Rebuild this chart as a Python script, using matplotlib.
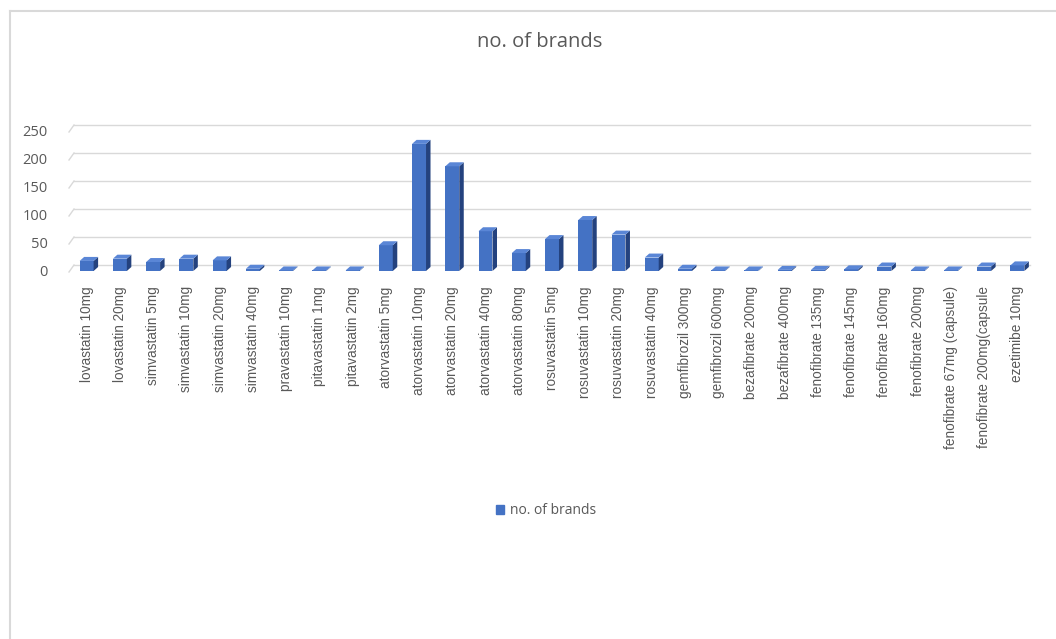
import matplotlib
matplotlib.use("Agg")
import matplotlib.pyplot as plt
from matplotlib.patches import Polygon, Rectangle
from matplotlib.lines import Line2D
import numpy as np

categories = [
    "lovastatin 10mg", "lovastatin 20mg", "simvastatin 5mg", "simvastatin 10mg",
    "simvastatin 20mg", "simvastatin 40mg", "pravastatin 10mg", "pitavastatin 1mg",
    "pitavastatin 2mg", "atorvastatin 5mg", "atorvastatin 10mg", "atorvastatin 20mg",
    "atorvastatin 40mg", "atorvastatin 80mg", "rosuvastatin 5mg", "rosuvastatin 10mg",
    "rosuvastatin 20mg", "rosuvastatin 40mg", "gemfibrozil 300mg", "gemfibrozil 600mg",
    "bezafibrate 200mg", "bezafibrate 400mg", "fenofibrate 135mg", "fenofibrate 145mg",
    "fenofibrate 160mg", "fenofibrate 200mg", "fenofibrate 67mg (capsule)",
    "fenofibrate 200mg(capsule", "ezetimibe 10mg",
]
values = [18, 22, 16, 22, 19, 4, 1, 1, 1, 46, 227, 187, 71, 32, 57, 91, 65, 24,
          4, 1, 1, 2, 2, 3, 8, 1, 1, 8, 10]
yticks = [0, 50, 100, 150, 200, 250]
series_name = "no. of brands"
title = "no. of brands"

W, H = 1056, 639
fig = plt.figure(figsize=(W / 100, H / 100), dpi=100)
fig.patch.set_facecolor("white")

n = len(categories)
left_px, right_px = 70, 1034
bot_px, top_px = 271, 131
ax = fig.add_axes([left_px / W, 1 - bot_px / H, (right_px - left_px) / W, (bot_px - top_px) / H])
ax.set_xlim(-0.5, n - 0.5)
ax.set_ylim(0, 250)
for s in ax.spines.values():
    s.set_visible(False)
ax.tick_params(length=0)
ax.set_facecolor("none")

# pixel -> data conversions
px_x = n / (right_px - left_px)
px_y = 250 / (bot_px - top_px)
back_dx, back_dy = 4 * px_x, 6 * px_y
depth_dx, depth_dy = 4.5 * px_x, 4.0 * px_y

grid_c = "#D9D9D9"
for v in yticks:
    ax.add_line(Line2D([-0.5 + back_dx, n - 0.5 - 4 * px_x], [v + back_dy, v + back_dy],
                       color=grid_c, lw=1.0, clip_on=False, zorder=1))
    ax.add_line(Line2D([-0.5 - 1 * px_x, -0.5 + back_dx], [v - 1 * px_y, v + back_dy],
                       color=grid_c, lw=1.0, clip_on=False, zorder=1))

x = np.arange(n)
bw = 0.42
front_c = "#4472C4"
side_c = "#24427E"
top_c = "#5A86D6"
bars = ax.bar(x, values, width=bw, color=front_c, edgecolor="none", zorder=3, clip_on=False,
              label=series_name)
for b in bars:
    x0 = b.get_x()
    x1 = x0 + b.get_width()
    h = b.get_height()
    side = Polygon([(x1, 0), (x1 + depth_dx, depth_dy), (x1 + depth_dx, h + depth_dy), (x1, h)],
                   closed=True, facecolor=side_c, edgecolor="none", zorder=3, clip_on=False)
    topf = Polygon([(x0, h), (x1, h), (x1 + depth_dx, h + depth_dy), (x0 + depth_dx, h + depth_dy)],
                   closed=True, facecolor=top_c, edgecolor="none", zorder=3, clip_on=False)
    ax.add_patch(side)
    ax.add_patch(topf)

txt_c = "#595959"
ax.set_yticks(yticks)
ax.set_yticklabels([str(v) for v in yticks], fontsize=10.5, color=txt_c, family=["Open Sans", "DejaVu Sans"])
ax.tick_params(axis="y", pad=16)
ax.set_xticks(x)
ax.set_xticklabels(categories, rotation=90, fontsize=9.8, color=txt_c,
                   family=["Liberation Sans", "DejaVu Sans"], va="top", ha="center")
ax.tick_params(axis="x", pad=11)

fig.text(540 / W, 1 - 42 / H, title, ha="center", va="center", fontsize=14.5, color=txt_c,
         family=["Open Sans", "DejaVu Sans"])

leg = fig.legend(handles=[Rectangle((0, 0), 1, 1, color=front_c)], labels=[series_name],
                 loc="center", bbox_to_anchor=(546 / W, 1 - 511 / H), frameon=False,
                 handlelength=0.6, handleheight=0.6, handletextpad=0.4,
                 prop={"family": ["Open Sans", "DejaVu Sans"], "size": 10})
for t in leg.get_texts():
    t.set_color(txt_c)

# outer chart border (left & top)
fig.add_artist(Line2D([10 / W, 10 / W], [0, 1 - 11 / H], transform=fig.transFigure, color="#D9D9D9", lw=1.5))
fig.add_artist(Line2D([10 / W, 1], [1 - 11 / H, 1 - 11 / H], transform=fig.transFigure, color="#D9D9D9", lw=1.5))

fig.savefig("out.png", dpi=100)
